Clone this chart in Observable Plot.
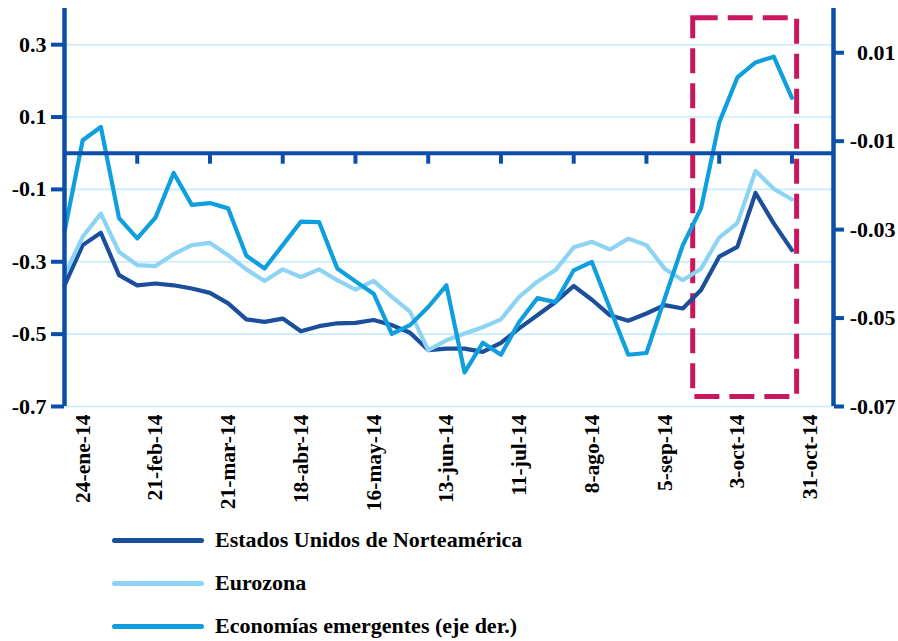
<!DOCTYPE html>
<html><head><meta charset="utf-8">
<script src="https://cdn.jsdelivr.net/npm/d3@7"></script>
<script src="https://cdn.jsdelivr.net/npm/@observablehq/plot@0.6"></script>
<style>
body{margin:0;background:#fff;}
#wrap{position:relative;width:898px;height:641px;font-family:"Liberation Serif","Times New Roman",serif;font-weight:bold;overflow:hidden;}
#chart{position:absolute;left:0;top:0;}
.leg{position:absolute;left:112px;height:30px;display:flex;align-items:center;font-size:22px;color:#000;white-space:nowrap;}
.leg .sw{display:inline-block;width:92px;height:5px;border-radius:3px;margin-right:11px;}
</style></head><body><div id="wrap"><div id="chart"></div></div>
<script>
// weekly observation dates
const dates = ["2014-01-17","2014-01-24","2014-01-31","2014-02-07","2014-02-14","2014-02-21","2014-02-28",
"2014-03-07","2014-03-14","2014-03-21","2014-03-28","2014-04-04","2014-04-11","2014-04-18","2014-04-25",
"2014-05-02","2014-05-09","2014-05-16","2014-05-23","2014-05-30","2014-06-06","2014-06-13","2014-06-20",
"2014-06-27","2014-07-04","2014-07-11","2014-07-18","2014-07-25","2014-08-01","2014-08-08","2014-08-15",
"2014-08-22","2014-08-29","2014-09-05","2014-09-12","2014-09-19","2014-09-26","2014-10-03","2014-10-10",
"2014-10-17","2014-10-24"];
// Estados Unidos de Norteamérica (left axis)
const us = [-0.365,-0.254,-0.220,-0.337,-0.365,-0.360,-0.365,-0.374,-0.386,-0.415,-0.459,-0.466,-0.457,-0.492,
-0.478,-0.470,-0.469,-0.461,-0.475,-0.496,-0.544,-0.540,-0.540,-0.549,-0.524,-0.484,-0.448,-0.411,-0.367,
-0.405,-0.448,-0.463,-0.443,-0.420,-0.429,-0.378,-0.286,-0.259,-0.110,-0.194,-0.268];
// Eurozona (left axis)
const euro = [-0.337,-0.231,-0.167,-0.273,-0.309,-0.312,-0.279,-0.254,-0.248,-0.282,-0.321,-0.353,-0.321,-0.342,
-0.321,-0.351,-0.377,-0.353,-0.397,-0.438,-0.544,-0.517,-0.498,-0.481,-0.459,-0.397,-0.355,-0.323,-0.260,
-0.245,-0.266,-0.236,-0.254,-0.319,-0.351,-0.319,-0.233,-0.193,-0.049,-0.098,-0.128];
// Economías emergentes (right axis)
const emerging = [-0.0305,-0.0098,-0.0068,-0.0274,-0.0320,-0.0273,-0.0172,-0.0244,-0.0240,-0.0252,-0.0359,
-0.0388,-0.0335,-0.0282,-0.0283,-0.0388,-0.0417,-0.0445,-0.0536,-0.0516,-0.0475,-0.0426,-0.0623,-0.0556,
-0.0583,-0.0509,-0.0455,-0.0464,-0.0392,-0.0373,-0.0479,-0.0583,-0.0579,-0.0456,-0.0335,-0.0252,-0.0058,
0.0044,0.0078,0.0091,-0.0002];

const seriesNames = ["Estados Unidos de Norteamérica","Eurozona","Economías emergentes (eje der.)"];
const leftTicks = [0.3, 0.1, -0.1, -0.3, -0.5, -0.7];
const rightTicks = [0.01, -0.01, -0.03, -0.05, -0.07];
const xLabelDates = ["2014-01-24","2014-02-21","2014-03-21","2014-04-18","2014-05-16","2014-06-13",
"2014-07-11","2014-08-08","2014-09-05","2014-10-03","2014-10-31"];
const xLabels = ["24-ene-14","21-feb-14","21-mar-14","18-abr-14","16-may-14","13-jun-14",
"11-jul-14","8-ago-14","5-sep-14","3-oct-14","31-oct-14"];
const zeroTickDates = ["2014-02-14","2014-03-14","2014-04-11","2014-05-09","2014-06-06","2014-07-04",
"2014-08-01","2014-08-29","2014-09-26","2014-10-24"];
// highlighted window (dashed box)
const highlight = [{start:"2014-09-16", end:"2014-10-26", low:-0.674, high:0.373}];

const C = {axis:"#0b4faa", us:"#1b4f9c", euro:"#8dd4f4", em:"#0f9fdf", grid:"#c6ecfb", red:"#c8175e"};
const yL = [-0.7, 0.4], yR = [-0.07, 0.02];
const toL = v => yL[0] + (v - yR[0]) * (yL[1] - yL[0]) / (yR[1] - yR[0]);
const xDomain = [new Date("2014-01-17"), new Date("2014-11-09")];
const W = 898, H = 520, mT = 8, mB = 114;
const tickLen = 11 * (yL[1] - yL[0]) / (H - mT - mB);
const X = dates.map(d => new Date(d));
const F = {fontFamily:"Liberation Serif, Times New Roman, serif", fontWeight:"bold", fill:"#000"};

const chart = Plot.plot({
  width: W, height: H, marginTop: mT, marginBottom: mB, marginLeft: 64, marginRight: 65,
  x: {type:"utc", domain: xDomain, axis: null},
  y: {domain: yL, axis: null},
  style: {fontFamily:"Liberation Serif, Times New Roman, serif", fontWeight:"bold", fontSize:"22px", color:"#000", background:"#fff", overflow:"visible"},
  marks: [
    Plot.ruleY(leftTicks, {stroke: C.grid, strokeWidth: 1.6}),
    Plot.rect(highlight, {x1: d => new Date(d.start), x2: d => new Date(d.end), y1: "low", y2: "high",
      fill: "none", stroke: C.red, strokeWidth: 5, strokeDasharray: "25,10"}),
    Plot.line(us, {x: X, y: us, stroke: C.us, strokeWidth: 4.2}),
    Plot.line(euro, {x: X, y: euro, stroke: C.euro, strokeWidth: 4.2}),
    Plot.line(emerging, {x: X, y: emerging.map(toL), stroke: C.em, strokeWidth: 4.2}),
    Plot.ruleY([0], {stroke: C.axis, strokeWidth: 4}),
    Plot.ruleX(zeroTickDates, {x: d => new Date(d), y1: 0, y2: -tickLen, stroke: C.axis, strokeWidth: 4}),
    Plot.ruleX([xDomain[0]], {stroke: C.axis, strokeWidth: 4.5}),
    Plot.ruleX([xDomain[1]], {stroke: C.axis, strokeWidth: 4.5}),
    Plot.axisY(leftTicks, {anchor:"left", tickSize: 13, tickPadding: 5, stroke: C.axis, strokeWidth: 4,
      tickFormat: d => d.toFixed(1), ...F, fontSize: 22}),
    Plot.axisY(rightTicks.map(toL), {anchor:"right", tickSize: 10, stroke: C.axis, strokeWidth: 4,
      tickFormat: () => ""}),
    Plot.text(rightTicks, {y: d => toL(d), frameAnchor: "right", dx: 62, textAnchor: "end",
      text: d => d.toFixed(2), ...F, fontSize: 22}),
    Plot.text(xLabels, {x: (d, i) => new Date(xLabelDates[i]), y: yL[0], text: d => d, rotate: -90,
      textAnchor: "end", dy: 8, ...F, fontSize: 21.5})
  ]
});
document.getElementById("chart").appendChild(chart);

const colors = [C.us, C.euro, C.em];
const tops = [525, 568, 611];
seriesNames.forEach((n, i) => {
  const d = document.createElement("div");
  d.className = "leg";
  d.style.top = tops[i] + "px";
  d.innerHTML = `<span class="sw" style="background:${colors[i]}"></span><span>${n}</span>`;
  document.getElementById("wrap").appendChild(d);
});
</script></body></html>
